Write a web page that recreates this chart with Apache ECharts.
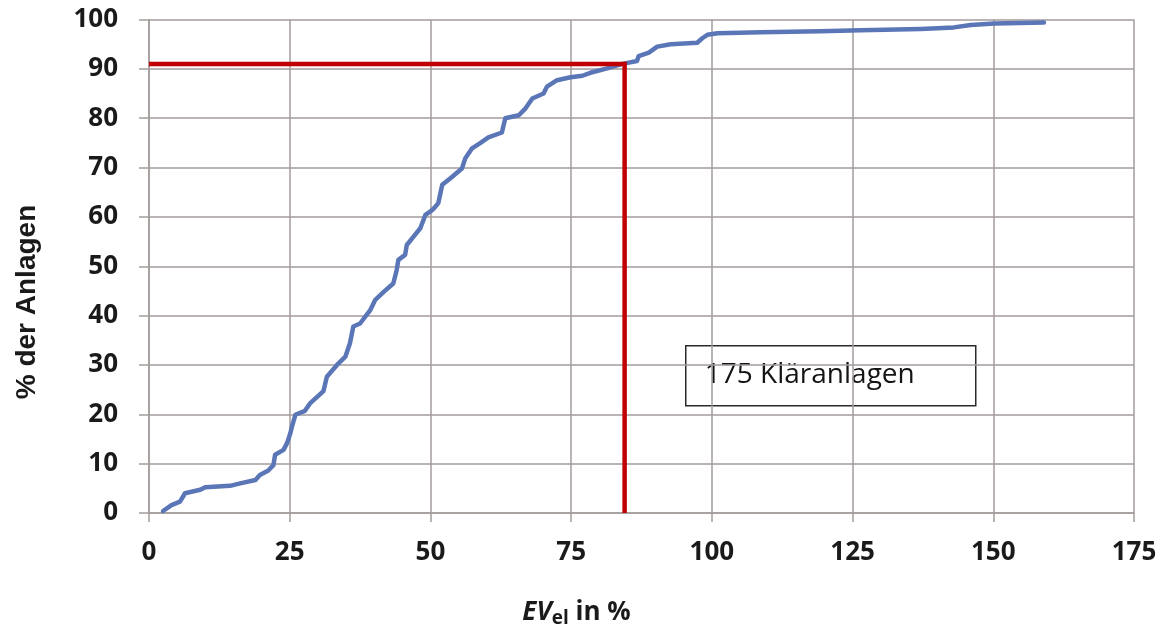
<!DOCTYPE html>
<html>
<head>
<meta charset="utf-8">
<script src="https://cdn.jsdelivr.net/npm/echarts@6/dist/echarts.min.js"></script>
<style>html,body{margin:0;padding:0;background:#fff}#c{width:1166px;height:635px}</style>
</head>
<body>
<div id="c"></div>
<script>
const curveX = [2.5,4.0,5.5,6.4,9.1,10.0,14.4,16.2,18.9,19.7,21.2,22.1,22.4,23.9,24.5,25.1,25.4,26.0,27.7,28.6,31.0,31.6,33.4,34.9,35.7,36.3,37.5,39.3,40.2,41.7,43.4,44.0,44.3,45.5,45.8,47.0,48.2,49.1,50.0,50.6,51.4,52.1,53.5,55.6,56.2,57.4,58.9,60.3,62.7,63.3,65.7,66.9,68.1,70.1,70.7,72.5,74.9,77.0,78.4,81.4,84.1,86.7,87.0,88.8,90.3,92.7,97.4,98.3,99.2,101.0,108.7,119.3,126.4,137.1,143.0,146.0,150.2,159.0];
const curveY = [0.4,1.6,2.3,4.0,4.7,5.2,5.5,6.0,6.7,7.7,8.6,9.7,11.8,12.8,14.1,16.1,17.5,19.9,20.7,22.2,24.7,27.6,30.0,31.7,34.4,37.8,38.4,41.1,43.2,44.8,46.5,49.2,51.3,52.3,54.3,56.0,57.7,60.4,61.1,61.7,62.8,66.5,67.8,69.8,71.9,73.9,75.0,76.1,77.1,80.0,80.6,82.0,84.0,85.0,86.4,87.7,88.3,88.6,89.2,90.1,91.0,91.6,92.6,93.3,94.5,95.0,95.3,96.2,96.9,97.2,97.4,97.6,97.8,98.1,98.4,98.9,99.2,99.4];
const cutoffX = [0, 84.5, 84.5];
const cutoffY = [91, 91, 0];
const xTicks = [0,25,50,75,100,125,150,175];
const yTicks = [0,10,20,30,40,50,60,70,80,90,100];
const boxText = '175 Kläranlagen';
const yTitle = '% der Anlagen';

const chart = echarts.init(document.getElementById('c'), null, {renderer: 'canvas'});
const gridColor = '#a39d9b';
const lblFont = '"Open Sans", "Liberation Sans", sans-serif';
chart.setOption({
  animation: false,
  backgroundColor: '#ffffff',
  grid: {left: 149, right: 32, top: 19.5, bottom: 122, show: false},
  xAxis: {
    type: 'value', min: xTicks[0], max: xTicks[xTicks.length-1], interval: 25,
    axisLine: {show: true, lineStyle: {color: gridColor, width: 1.5}},
    axisTick: {show: true, inside: false, length: 9, lineStyle: {color: gridColor, width: 1.5}},
    splitLine: {show: true, lineStyle: {color: gridColor, width: 1.5}},
    axisLabel: {color: '#1a1a1a', fontSize: 26, fontWeight: 'bold', fontFamily: lblFont, margin: 27},
    name: '{i|EV}{s|el}{n| in %}',
    nameLocation: 'middle', nameGap: 84,
    nameTextStyle: {
      padding: [0, 130, 0, 0],
      rich: {
        i: {fontSize: 26, fontWeight: 'bold', fontStyle: 'italic', color: '#1a1a1a', fontFamily: lblFont},
        s: {fontSize: 19, fontWeight: 'bold', color: '#1a1a1a', fontFamily: lblFont, padding: [12, 0, 0, 0]},
        n: {fontSize: 26, fontWeight: 'bold', color: '#1a1a1a', fontFamily: lblFont}
      }
    }
  },
  yAxis: {
    type: 'value', min: yTicks[0], max: yTicks[yTicks.length-1], interval: 10,
    axisLine: {show: true, lineStyle: {color: gridColor, width: 1.5}},
    axisTick: {show: true, inside: false, length: 10, lineStyle: {color: gridColor, width: 1.5}},
    splitLine: {show: true, lineStyle: {color: gridColor, width: 1.5}},
    axisLabel: {color: '#1a1a1a', fontSize: 26, fontWeight: 'bold', fontFamily: lblFont, margin: 31}
  },
  series: [
    {
      type: 'line', name: 'curve', symbol: 'none', smooth: false,
      data: curveX.map((x, i) => [x, curveY[i]]),
      lineStyle: {color: '#5b76b7', width: 4.5, cap: 'round', join: 'round'},
      z: 3
    },
    {
      type: 'line', name: 'cutoff', symbol: 'none',
      data: cutoffX.map((x, i) => [x, cutoffY[i]]),
      lineStyle: {color: '#c00000', width: 4.5, join: 'miter'},
      z: 4
    }
  ],
  graphic: [
    {
      type: 'text', x: 27, y: 302, rotation: Math.PI / 2,
      style: {text: yTitle, fontSize: 28, fontWeight: 'bold', fill: '#1a1a1a', fontFamily: '"Liberation Sans", Arial, sans-serif', align: 'center', verticalAlign: 'middle'}
    },
    {
      type: 'group', left: 685, top: 345,
      children: [
        {type: 'rect', shape: {x: 0, y: 0, width: 290, height: 60}, style: {fill: '#ffffff', stroke: '#2a2a2a', lineWidth: 1.5}},
        {type: 'text', x: 19, y: 29, style: {text: boxText, fontSize: 28, fill: '#141414', fontFamily: '"Open Sans", "Liberation Sans", sans-serif', verticalAlign: 'middle'}}
      ]
    }
  ]
});
</script>
</body>
</html>
